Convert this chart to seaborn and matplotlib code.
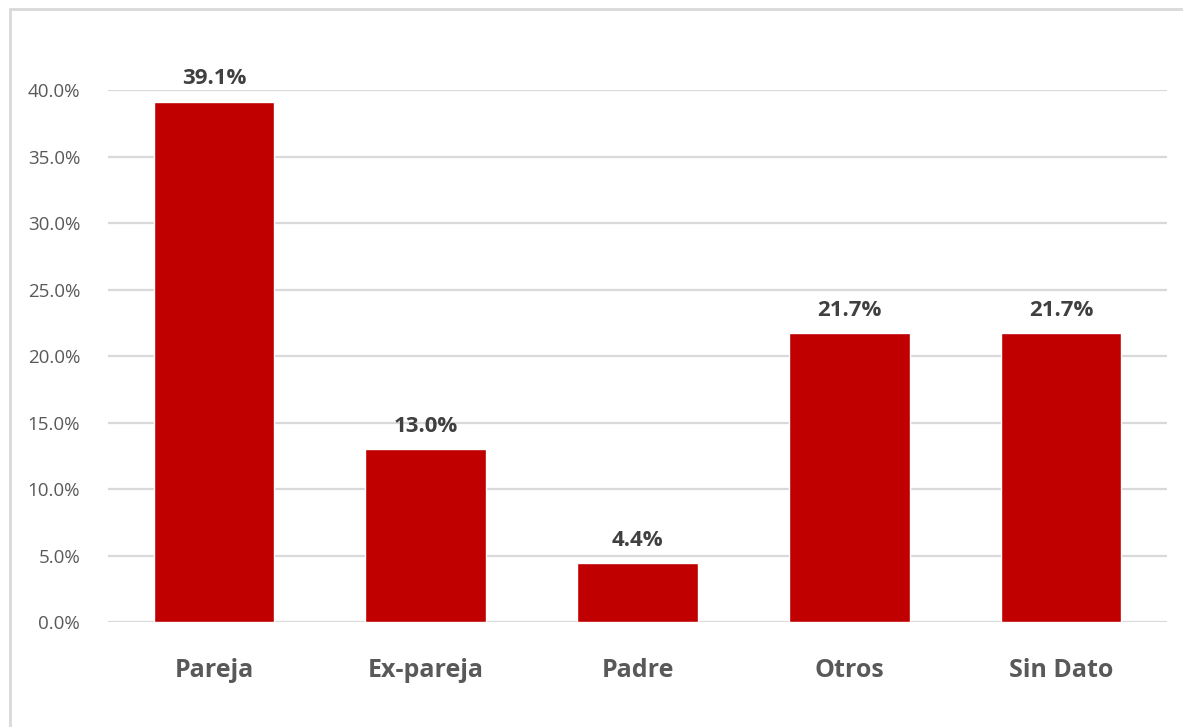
import matplotlib
matplotlib.use("Agg")
import matplotlib.pyplot as plt
import seaborn as sns
import pandas as pd
from matplotlib.lines import Line2D
from matplotlib.ticker import PercentFormatter

categories = ["Pareja", "Ex-pareja", "Padre", "Otros", "Sin Dato"]
values = [39.1, 13.0, 4.4, 21.7, 21.7]
value_labels = ["39.1%", "13.0%", "4.4%", "21.7%", "21.7%"]

df = pd.DataFrame({"Categoria": categories, "Porcentaje": values})

sns.set_style("white")
plt.rcParams["font.family"] = ["Open Sans", "DejaVu Sans"]

fig = plt.figure(figsize=(11.83, 7.27), dpi=100)
ax = fig.add_axes([0.0913, 0.1444, 0.8952, 0.7318])

sns.barplot(data=df, x="Categoria", y="Porcentaje", color="#C00000",
            saturation=1, width=0.57, ax=ax, zorder=3)

ax.set_ylim(0, 40)
ax.set_xlim(-0.5, 4.5)
ax.set_yticks([0, 5, 10, 15, 20, 25, 30, 35, 40])
ax.yaxis.set_major_formatter(PercentFormatter(decimals=1))
ax.grid(axis="y", color="#D9D9D9", linewidth=1.6, zorder=0)
ax.set_axisbelow(True)
for s in ax.spines.values():
    s.set_visible(False)
ax.tick_params(axis="y", length=0, labelsize=13.5, labelcolor="#595959", pad=20)
ax.tick_params(axis="x", length=0, labelsize=18, labelcolor="#595959", pad=26)
for lbl in ax.get_xticklabels():
    lbl.set_fontweight("bold")
ax.set_xlabel("")
ax.set_ylabel("")

for i, (v, t) in enumerate(zip(values, value_labels)):
    ax.annotate(t, (i, v), xytext=(0, 9), textcoords="offset points",
                ha="center", va="bottom", fontsize=16, fontweight="bold",
                color="#404040", annotation_clip=False)

# outer frame (left and top edges visible in the reference)
fig.add_artist(Line2D([0.0085, 0.0085], [0, 0.9877], transform=fig.transFigure,
                      color="#D9D9D9", linewidth=2))
fig.add_artist(Line2D([0.0085, 1.0], [0.9877, 0.9877], transform=fig.transFigure,
                      color="#D9D9D9", linewidth=2))

fig.savefig("out.png", dpi=100)
